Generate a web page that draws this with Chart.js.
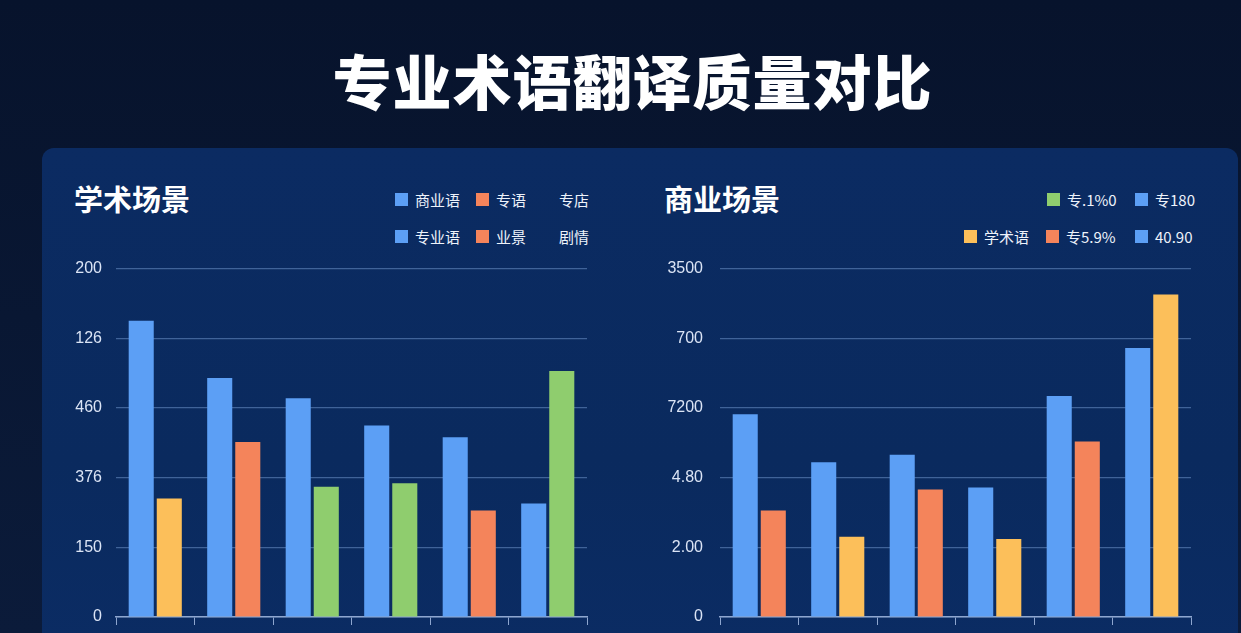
<!DOCTYPE html>
<html><head><meta charset="utf-8">
<script src="https://cdn.jsdelivr.net/npm/chart.js@4.4.1/dist/chart.umd.min.js"></script>
<style>
html,body{margin:0;padding:0;width:1241px;height:633px;overflow:hidden;background:#0a1833;font-family:"Noto Sans CJK SC","Noto Sans",sans-serif;}
#bg{position:absolute;left:0;top:0;width:1241px;height:633px;background:linear-gradient(180deg,#07132c 0%,#0b1b3a 100%);}
#title{position:absolute;left:12px;width:1241px;top:40px;text-align:center;color:#fff;font-size:59px;font-weight:900;line-height:80px;letter-spacing:1px;}
#panel{position:absolute;left:42px;top:148px;width:1196px;height:520px;border-radius:12px;background:linear-gradient(180deg,#0b2b62 0%,#0a2a5e 60%,#0b2c64 100%);}
.sub{position:absolute;color:#fff;font-size:29px;font-weight:700;line-height:36px;}
.lg{position:absolute;color:#eef3fb;font-size:15px;line-height:18px;white-space:nowrap;}
.sw{position:absolute;width:13px;height:13px;}
.cv{position:absolute;}
</style></head>
<body>
<div id="bg"></div>
<div id="title">专业术语翻译质量对比</div>
<div id="panel"></div>
<div class="sub" style="left:74px;top:180px;">学术场景</div>
<div class="sub" style="left:664px;top:180px;">商业场景</div>
<div id="legends"></div>
<div class="cv" style="left:60px;top:245px;width:540px;height:405px;"><canvas id="c1"></canvas></div>
<div class="cv" style="left:660px;top:242px;width:540px;height:408px;"><canvas id="c2"></canvas></div>
<script>
// ---- data ----
const BLUE = '#5c9ff5', ORANGE = '#f4845b', YELLOW = '#fcbf5a', GREEN = '#8fcd6e';

const academicCategories = ['A1','A2','A3','A4','A5','A6'];
const academicTicks = ['0','150','376','460','126','200'];
const academicBlue = [4.25, 3.43, 3.14, 2.75, 2.58, 1.63];
const academicSecond = [1.70, 2.51, 1.87, 1.92, 1.53, 3.53];
const academicSecondColors = [YELLOW, ORANGE, GREEN, GREEN, ORANGE, GREEN];

const businessCategories = ['B1','B2','B3','B4','B5','B6'];
const businessTicks = ['0','2.00','4.80','7200','700','3500'];
const businessBlue = [2.91, 2.22, 2.33, 1.86, 3.17, 3.86];
const businessSecond = [1.53, 1.15, 1.83, 1.12, 2.52, 4.63];
const businessSecondColors = [ORANGE, YELLOW, ORANGE, YELLOW, ORANGE, YELLOW];

const academicLegend = [
  {text:'商业语', color:BLUE, x:395, y:200},
  {text:'专语', color:ORANGE, x:476, y:200},
  {text:'专店', color:null, x:559, y:200},
  {text:'专业语', color:BLUE, x:395, y:237},
  {text:'业景', color:ORANGE, x:476, y:237},
  {text:'剧情', color:null, x:559, y:237}
];
const businessLegend = [
  {text:'专.1%0', color:GREEN, x:1047, y:200},
  {text:'专180', color:BLUE, x:1135, y:200},
  {text:'学术语', color:YELLOW, x:964, y:237},
  {text:'专5.9%', color:ORANGE, x:1046, y:237},
  {text:'40.90', color:BLUE, x:1135, y:237}
];

// ---- legends ----
const lgRoot = document.getElementById('legends');
[...academicLegend, ...businessLegend].forEach(it => {
  if (it.color) {
    const s = document.createElement('div');
    s.className = 'sw';
    s.style.left = it.x + 'px'; s.style.top = (it.y - 7) + 'px'; s.style.background = it.color;
    lgRoot.appendChild(s);
  }
  const t = document.createElement('div');
  t.className = 'lg';
  t.textContent = it.text;
  t.style.left = (it.color ? it.x + 20 : it.x) + 'px';
  t.style.top = (it.y - 9) + 'px';
  lgRoot.appendChild(t);
});

// ---- charts ----
function makeChart(id, cats, blue, second, secondColors, ticks, yWidth, padRight, tickPad) {
  return new Chart(document.getElementById(id), {
    type: 'bar',
    data: {
      labels: cats,
      datasets: [
        {data: blue, backgroundColor: BLUE, borderWidth: 0, categoryPercentage: 0.715, barPercentage: 0.893},
        {data: second, backgroundColor: secondColors, borderWidth: 0, categoryPercentage: 0.715, barPercentage: 0.893}
      ]
    },
    options: {
      responsive: true,
      maintainAspectRatio: false,
      animation: false,
      layout: {padding: {top: 0, right: padRight, bottom: 0, left: 0}},
      plugins: {legend: {display: false}, tooltip: {enabled: false}},
      scales: {
        x: {
          offset: true,
          grid: {display: true, drawOnChartArea: false, drawTicks: true, tickLength: 8, color: '#8ea6cf', offset: true},
          border: {display: true, color: '#8ea6cf', width: 1.5},
          ticks: {display: false},
          afterFit: s => { s.height = 33; }
        },
        y: {
          min: 0, max: 5,
          ticks: {stepSize: 1, padding: tickPad, color: '#dbe4f5', font: {family: '"Liberation Sans","Noto Sans",sans-serif', size: 16},
                  callback: (v) => ticks[Math.round(v)]},
          grid: {color: 'rgba(110,145,200,0.55)', lineWidth: 1.2, drawTicks: false},
          border: {display: false},
          afterFit: s => { s.width = yWidth; }
        }
      }
    }
  });
}
makeChart('c1', academicCategories, academicBlue, academicSecond, academicSecondColors, academicTicks, 56, 13, 14);
makeChart('c2', businessCategories, businessBlue, businessSecond, businessSecondColors, businessTicks, 60, 9, 17);
</script>
</body></html>
